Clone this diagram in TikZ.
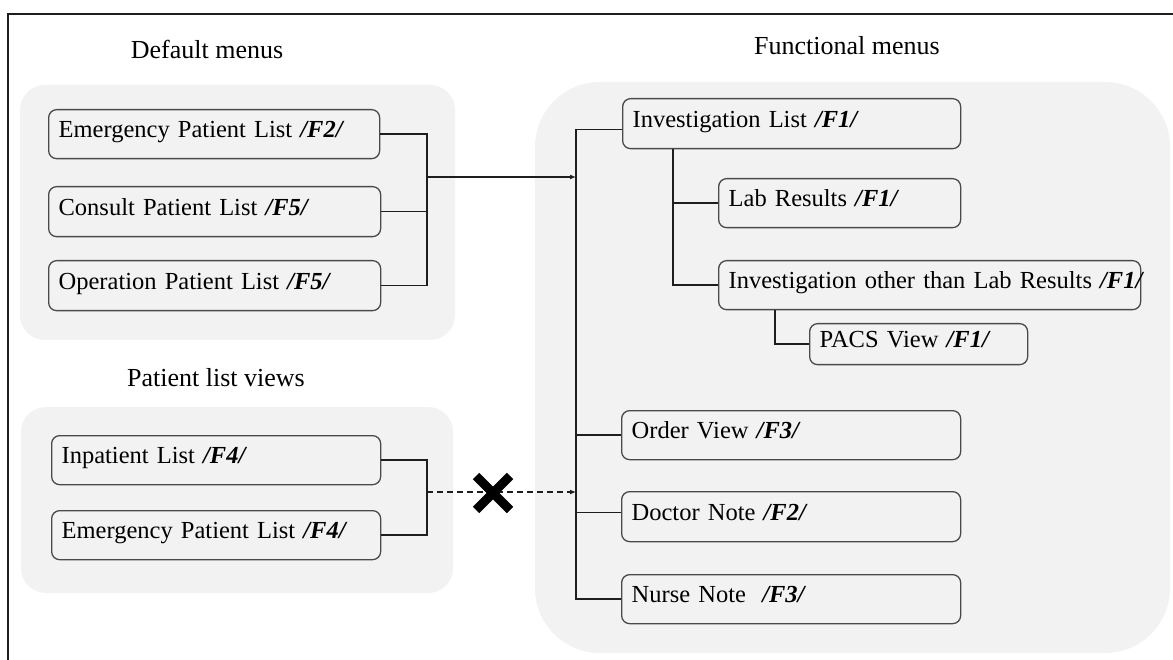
\documentclass[tikz,border=0pt]{standalone}
\usepackage{fontspec}
\setmainfont{Liberation Serif}
\usetikzlibrary{arrows.meta}
\definecolor{grp}{HTML}{F2F2F2}
\definecolor{bxfill}{HTML}{F2F2F2}
\definecolor{bxline}{HTML}{4A4A4A}
\definecolor{ln}{HTML}{1E1E1E}
\newcommand\bxt[2]{\mbox{#1 \textbf{\textit{#2}}}}
\tikzset{
  group/.style={fill=grp},
  title/.style={font=\fontsize{26}{30}\selectfont, inner sep=0pt},
  mbox/.style={draw=bxline, line width=1.3pt, fill=bxfill, rounded corners=8pt,
    anchor=north west, inner xsep=10pt, inner ysep=0pt, align=left,
    text height=15pt, text depth=8pt, font=\fontsize{24.5}{28}\selectfont},
  conn/.style={draw=ln, line width=1.4pt},
  arr/.style={conn, -{Latex[length=6pt,width=5pt]}},
  dashline/.style={dash pattern=on 6pt off 4pt}
}
\newcommand\mb[6]{\node[mbox, minimum width=#3pt, minimum height=#4pt, text width=#3pt-20pt] (#1) at (#2) {\bxt{#5}{#6}};}
\begin{document}
\begin{tikzpicture}[x=1pt,y=-1pt]
\useasboundingbox (0,0) rectangle (1173,660);
\fill[white] (0,0) rectangle (1173,660);
% frame
\draw[line width=2pt, draw=ln] (1173,14) -- (8,14) -- (8,660);
% groups
\path[group, rounded corners=25pt] (20,85) rectangle (455,340);
\path[group, rounded corners=25pt] (21,407) rectangle (453,593);
\path[group, rounded corners=65pt] (535,82) rectangle (1170,653);
% titles
\node[title] (tDef) at (207,49) {Default menus};
\node[title] (tFun) at (847,46) {Functional menus};
\node[title] (tPat) at (216,378) {Patient list views};
% boxes
\mb{e2}{48,109}{331}{49}{Emergency Patient List}{/F2/}
\mb{c5}{48,186}{332}{50}{Consult Patient List}{/F5/}
\mb{o5}{48,260}{332}{50}{Operation Patient List}{/F5/}
\mb{i4}{51,435}{329}{49}{Inpatient List}{/F4/}
\mb{e4}{51,510}{329}{49}{Emergency Patient List}{/F4/}
\mb{inv}{622,98}{338}{50}{Investigation List}{/F1/}
\mb{lab}{718,178}{242}{49}{Lab Results}{/F1/}
\mb{oth}{718,260}{422}{49}{Investigation other than Lab Results}{/F1/}
\mb{pacs}{809,323}{218}{41}{PACS View}{/F1/}
\mb{ord}{621,410}{339}{49}{Order View}{/F3/}
\mb{doc}{621,491}{339}{50}{Doctor Note}{/F2/}
\mb{nur}{621,574}{339}{49}{Nurse Note~}{/F3/}
% helper coordinates
\coordinate (bd) at (427,0);
\coordinate (mx) at (576,0);
\coordinate (sx) at (673,0);
\coordinate (ssx) at (775,0);
\coordinate (jd) at (427,177);
\coordinate (jp) at (427,492);
\coordinate (xm) at (493,493);
% default menus connectors
\draw[conn] (e2.east) -- (e2.east -| bd) -- (o5.east -| bd) -- (o5.east);
\draw[conn] (c5.east) -- (c5.east -| bd);
\draw[arr] (jd) -- (jd -| mx);
% patient list connectors
\draw[conn] (i4.east) -- (i4.east -| bd) -- (e4.east -| bd) -- (e4.east);
\draw[arr, dashline] (jp) -- (jp -| mx);
% X mark
\draw[line width=9pt, black] ([shift={(-17,-17)}]xm) -- ([shift={(17,17)}]xm);
\draw[line width=9pt, black] ([shift={(-17,17)}]xm) -- ([shift={(17,-17)}]xm);
% functional tree
\draw[conn] ([yshift=-6pt]inv.west) -- ([yshift=-6pt]inv.west -| mx) -- (nur.west -| mx) -- (nur.west);
\draw[conn] (ord.west) -- (ord.west -| mx);
\draw[conn] ([yshift=4pt]doc.west) -- ([yshift=4pt]doc.west -| mx);
\draw[conn] (sx |- inv.south) -- (sx |- oth.west) -- (oth.west);
\draw[conn] (lab.west) -- (lab.west -| sx);
\draw[conn] (ssx |- oth.south) -- (ssx |- pacs.west) -- (pacs.west);
\end{tikzpicture}
\end{document}
